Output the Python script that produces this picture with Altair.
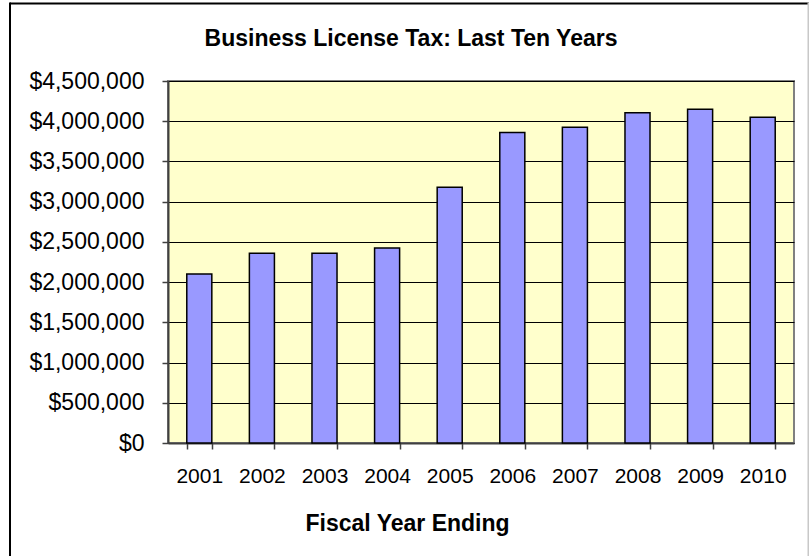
import altair as alt
import pandas as pd

years = ["2001", "2002", "2003", "2004", "2005", "2006", "2007", "2008", "2009", "2010"]
revenue = [2100000, 2360000, 2360000, 2425000, 3180000, 3860000, 3925000, 4105000, 4150000, 4050000]
y_ticks = [0, 500000, 1000000, 1500000, 2000000, 2500000, 3000000, 3500000, 4000000, 4500000]

df = pd.DataFrame({"year": years, "revenue": revenue})
FONT = "Liberation Sans"

bars = alt.Chart(df).mark_bar(
    fill="#9999FF", stroke="#000000", strokeWidth=1.5
).encode(
    x=alt.X("year:O", sort=years,
            scale=alt.Scale(paddingInner=0.6, paddingOuter=0.3),
            axis=alt.Axis(title="Fiscal Year Ending", labelAngle=0, tickBand="extent",
                          domainColor="#404040", domainWidth=2, tickColor="#404040",
                          tickSize=6, tickWidth=1.5, labelPadding=16, labelFontSize=21,
                          labelFont=FONT, labelColor="#000000", grid=False,
                          titleFont=FONT, titleFontSize=23, titleFontWeight="bold",
                          titleColor="#000000", titleX=239, titleY=87,
                          titleAlign="center", titleBaseline="alphabetic")),
    y=alt.Y("revenue:Q",
            scale=alt.Scale(domain=[0, 4500000], nice=False),
            axis=alt.Axis(title=None, values=y_ticks, format="$,.0f",
                          domainColor="#404040", domainWidth=2, tickColor="#404040",
                          tickSize=6, tickWidth=1.5, labelPadding=18, labelFontSize=23,
                          labelFont=FONT, labelColor="#000000",
                          grid=True, gridColor="#000000", gridWidth=1, gridOpacity=1)),
)

one = pd.DataFrame({"k": [0]})
top_rule = alt.Chart(one).mark_rule(color="#000000", strokeWidth=2, clip=False).encode(
    x=alt.value(-158), x2=alt.value(641), y=alt.value(-77.5))
left_rule = alt.Chart(one).mark_rule(color="#000000", strokeWidth=2, clip=False).encode(
    x=alt.value(-158), y=alt.value(-78.5), y2=alt.value(480))
right_rule = alt.Chart(one).mark_rule(color="#C8C8C8", strokeWidth=2, clip=False).encode(
    x=alt.value(640.5), y=alt.value(-78.5), y2=alt.value(480))

chart = alt.layer(bars, top_rule, left_rule, right_rule).properties(
    width=626, height=362,
    padding={"left": 168, "top": 81, "right": 15, "bottom": 113},
    autosize=alt.AutoSizeParams(type="none"),
    background="#FFFFFF",
    title=alt.TitleParams("Business License Tax: Last Ten Years", font=FONT, fontSize=23,
                          fontWeight="bold", color="#000000", anchor="middle",
                          dx=-70, dy=67.5, baseline="alphabetic", offset=0),
).configure_view(
    fill="#FFFFCC", stroke="#808080", strokeWidth=2
)

chart.save("out.html", embed_options={"renderer": "svg", "actions": False})
